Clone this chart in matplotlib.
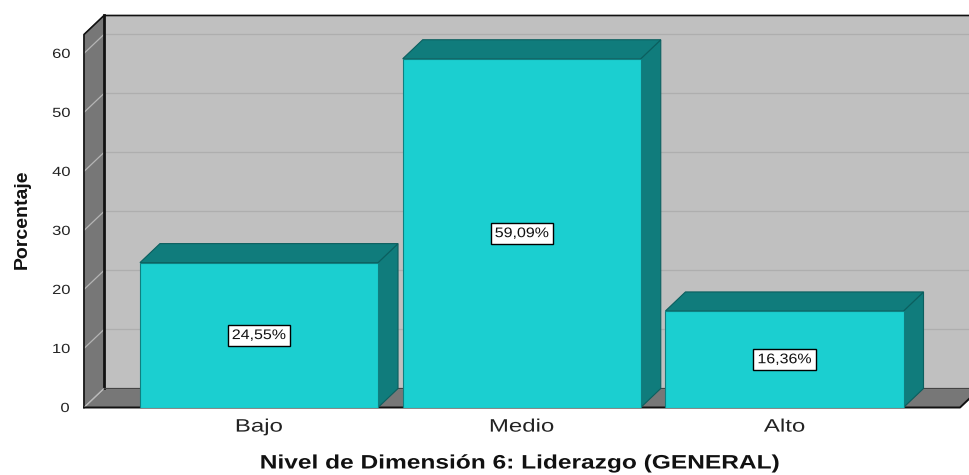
import matplotlib
matplotlib.use("Agg")   # headless
import matplotlib.pyplot as plt
from matplotlib.patches import Polygon
from matplotlib.patheffects import AbstractPathEffect
from matplotlib.transforms import Affine2D

categories = ["Bajo", "Medio", "Alto"]
values = [24.55, 59.09, 16.36]
yticks = [0, 10, 20, 30, 40, 50, 60]

W, H = 969, 475
X0, X1 = 84, 960      # front floor edge, pixels
Y0, Y1 = 407.5, 34.5  # y=0 and top of the front wall, pixels
XLIM = (-0.666, 2.668)
YMAX = 63.2
DX = 20 / 262.75      # 3D depth offset in data units
DY = 19 / 5.9
BAR_W = 0.906

WALL = "#C0C0C0"
SIDE = "#777777"
FRONT = "#1BCFD0"
DARK = "#107C7C"
FONT = "Liberation Sans"


class Stretch(AbstractPathEffect):
    """Widen text about its own centre: the reference image is stretched sideways."""

    def __init__(self, sx):
        super().__init__()
        self.sx = sx

    def draw_path(self, renderer, gc, tpath, affine, rgbFace=None):
        box = affine.transform_path(tpath).get_extents()
        cx = (box.x0 + box.x1) / 2
        wide = affine + Affine2D().translate(-cx, 0).scale(self.sx, 1).translate(cx, 0)
        renderer.draw_path(gc, tpath, wide, rgbFace)


def poly(ax, pts, color, edge=None, lw=0.8, z=1):
    ax.add_patch(Polygon(pts, closed=True, facecolor=color, edgecolor=edge or color,
                         linewidth=lw, zorder=z, clip_on=False))


fig = plt.figure(figsize=(W / 100, H / 100), dpi=100)
ax = fig.add_axes([X0 / W, 1 - Y0 / H, (X1 - X0) / W, (Y0 - Y1) / H])
ax.set_xlim(*XLIM)
ax.set_ylim(0, YMAX)
ax.patch.set_visible(False)
for s in ax.spines.values():
    s.set_visible(False)

xl, xr = XLIM
# back wall, left wall, floor
poly(ax, [(xl + DX, DY), (xr + DX, DY), (xr + DX, YMAX + DY), (xl + DX, YMAX + DY)], WALL, z=1)
poly(ax, [(xl, 0), (xl + DX, DY), (xl + DX, YMAX + DY), (xl, YMAX)], SIDE, z=1)
poly(ax, [(xl, 0), (xr, 0), (xr + DX, DY), (xl + DX, DY)], SIDE, z=1)

# gridlines on the walls
for t in yticks:
    ax.plot([xl + DX, xr + DX], [t + DY, t + DY], color="#AEAEAE", lw=0.9, zorder=2, clip_on=False)
    ax.plot([xl, xl + DX], [t, t + DY], color="#B5B5B5", lw=0.9, zorder=2, clip_on=False)

# frame lines
ax.plot([xl, xl, xl + DX, xr + DX], [0, YMAX, YMAX + DY, YMAX + DY], color="#111111", lw=1.2, zorder=3, clip_on=False)
ax.plot([xl + DX, xl + DX], [DY, YMAX + DY], color="#111111", lw=2, zorder=3, clip_on=False)
ax.plot([xl, xl + DX], [0, DY], color="#BBBBBB", lw=0.8, zorder=3, clip_on=False)
ax.plot([xl + DX, xr + DX], [DY, DY], color="#444444", lw=0.8, zorder=3, clip_on=False)
ax.plot([xl, xr, xr + DX], [0, 0, DY], color="#111111", lw=1.4, zorder=3, clip_on=False)

for i, (cat, v) in enumerate(zip(categories, values)):
    l, r = i - BAR_W / 2, i + BAR_W / 2
    poly(ax, [(r, 0), (r + DX, DY), (r + DX, v + DY), (r, v)], DARK, edge="#0B5F5F", z=4)
    poly(ax, [(l, v), (r, v), (r + DX, v + DY), (l + DX, v + DY)], DARK, edge="#0B5F5F", z=4)
    ax.bar(i, v, width=BAR_W, color=FRONT, edgecolor="#0F7F80", linewidth=0.8, zorder=5)
    ax.text(i, v / 2, f"{v:.2f}%".replace(".", ","), ha="center", va="center",
            fontsize=10, color="#111111", zorder=6, family=FONT, path_effects=[Stretch(1.15)],
            bbox=dict(boxstyle="square,pad=0.25", facecolor="white", edgecolor="black", linewidth=1,
                      path_effects=[Stretch(1.15)]))

ax.set_xticks(range(len(categories)))
ax.set_xticklabels(categories, fontsize=13, color="#222222", family=FONT, path_effects=[Stretch(1.33)])
ax.set_yticks(yticks)
ax.set_yticklabels([str(t) for t in yticks], fontsize=9.5, color="#222222", family=FONT, path_effects=[Stretch(1.25)])
ax.tick_params(axis="both", length=0)
ax.tick_params(axis="x", pad=8)
ax.tick_params(axis="y", pad=11)

fig.text(520 / W, 1 - 464 / H, "Nivel de Dimensión 6: Liderazgo (GENERAL)", ha="center", va="center",
         fontsize=14, fontweight="bold", color="#111111", family=FONT, path_effects=[Stretch(1.26)])
fig.text(22 / W, 1 - 219 / H, "Porcentaje", rotation=90, ha="center", va="center",
         fontsize=14, fontweight="bold", color="#111111", family=FONT)

fig.savefig("out.png", dpi=100)
